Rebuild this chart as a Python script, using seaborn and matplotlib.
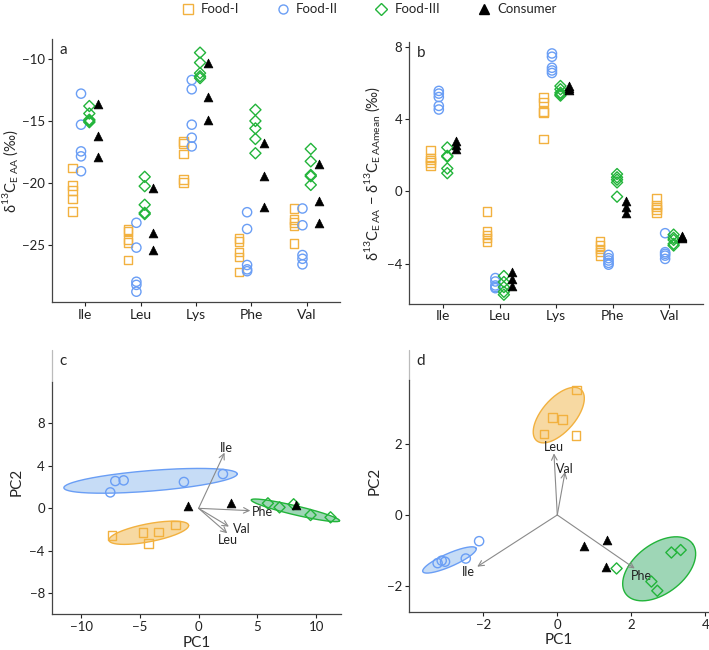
import numpy as np
import pandas as pd
import seaborn as sns
from matplotlib import pyplot as plt
from matplotlib.lines import Line2D

sns.set_style('ticks')
plt.rcParams['font.family'] = ['Lato', 'DejaVu Sans']
plt.rcParams['mathtext.fontset'] = 'custom'
plt.rcParams['mathtext.rm'] = 'Lato'

# ---- data -------------------------------------------------------------
amino = ['Ile', 'Leu', 'Lys', 'Phe', 'Val']
groups = ['Food-I', 'Food-II', 'Food-III', 'Consumer']

# panel a: d13C of essential amino acids
a_food1 = [[-18.8, -20.2, -20.6, -21.3, -22.3], [-23.75, -23.9, -24.55, -24.8, -26.2],
           [-16.65, -16.8, -17.65, -19.7, -19.95], [-24.45, -24.7, -25.55, -25.95, -27.15],
           [-22.05, -22.95, -23.2, -23.45, -24.85]]
a_food2 = [[-12.8, -15.3, -17.45, -17.85, -19.05], [-23.2, -25.2, -27.95, -28.2, -28.75],
           [-11.7, -12.45, -15.3, -16.35, -17.05], [-22.35, -23.7, -26.6, -26.95, -27.1],
           [-22.05, -23.4, -25.8, -26.1, -26.55]]
a_food3 = [[-13.8, -14.4, -14.9, -15.0, -15.1], [-19.5, -20.25, -21.75, -22.4, -22.5],
           [-9.5, -10.3, -11.15, -11.4, -11.55], [-14.1, -15.0, -15.6, -16.45, -17.6],
           [-17.25, -18.25, -19.35, -19.45, -20.15]]
a_cons = [[-13.65, -16.25, -17.9], [-20.4, -24.05, -25.4], [-10.3, -13.1, -14.9],
          [-16.75, -19.4, -21.95], [-18.5, -21.45, -23.2]]

# panel b: normalised d13C (EAA - EAA mean)
b_food1 = [[2.3, 1.85, 1.75, 1.6, 1.42], [-1.12, -2.22, -2.4, -2.58, -2.8],
           [5.2, 4.95, 4.42, 4.36, 2.89], [-2.77, -2.99, -3.18, -3.36, -3.54],
           [-0.38, -0.75, -0.85, -1.0, -1.15]]
b_food2 = [[5.56, 5.41, 5.22, 4.73, 4.53], [-4.79, -4.98, -5.2, -5.29, -5.35],
           [7.63, 7.45, 6.84, 6.69, 6.55], [-3.51, -3.69, -3.82, -3.95, -4.05],
           [-2.31, -3.36, -3.45, -3.55, -3.73]]
b_food3 = [[2.43, 1.97, 1.92, 1.27, 1.01], [-4.68, -5.01, -5.29, -5.55, -5.71],
           [5.83, 5.65, 5.46, 5.37, 5.3], [0.96, 0.78, 0.65, 0.5, -0.29],
           [-2.39, -2.57, -2.68, -2.9, -2.99]]
b_cons = [[2.8, 2.56, 2.34], [-4.46, -4.83, -5.24], [5.83, 5.7, 5.6],
          [-0.55, -0.84, -1.19], [-2.45, -2.5, -2.55]]

# panel c: PCA scores / loadings
c_pc1 = {'Food-I': [-7.38, -4.74, -3.40, -1.96, -4.26],
         'Food-II': [-7.52, -7.09, -6.38, -1.25, 2.07],
         'Food-III': [5.9, 6.89, 8.09, 9.53, 11.23],
         'Consumer': [-0.91, 2.78, 8.31]}
c_pc2 = {'Food-I': [-2.57, -2.26, -2.23, -1.57, -3.29],
         'Food-II': [1.50, 2.57, 2.63, 2.48, 3.23],
         'Food-III': [0.47, 0.09, 0.38, -0.63, -0.85],
         'Consumer': [0.22, 0.47, 0.28]}
c_load_names = ['Ile', 'Phe', 'Val', 'Leu']
c_load_x = [2.21, 4.4, 2.58, 2.44]
c_load_y = [5.24, -0.22, -1.72, -2.35]
# ellipse: centre, semi-diameter A, semi-diameter B (data units)
c_ell = {'Food-I': [(-4.24, -2.3), (3.39, 0.68), (0.0, 0.86)],
         'Food-II': [(-4.09, 2.59), (7.38, 0.65), (0.0, 0.97)],
         'Food-III': [(8.24, -0.19), (3.76, -0.97), (0.0, 0.44)]}

# panel d: PCA scores / loadings
d_pc1 = {'Food-I': [0.52, -0.13, 0.14, -0.36, 0.50],
         'Food-II': [-2.11, -2.47, -3.03, -3.12, -3.23],
         'Food-III': [1.6, 2.54, 2.7, 3.08, 3.33],
         'Consumer': [0.72, 1.33, 1.31]}
d_pc2 = {'Food-I': [3.53, 2.76, 2.70, 2.29, 2.24],
         'Food-II': [-0.74, -1.23, -1.32, -1.29, -1.36],
         'Food-III': [-1.51, -1.88, -2.14, -1.06, -0.99],
         'Consumer': [-0.89, -0.71, -1.46]}
d_load_names = ['Leu', 'Val', 'Ile', 'Phe']
d_load_x = [-0.09, 0.21, -2.16, 2.09]
d_load_y = [1.74, 1.22, -1.46, -1.51]
d_ell = {'Food-I': [(0.04, 2.82), (0.6, 0.72), (0.34, -0.31)],
         'Food-II': [(-2.91, -1.27), (0.72, 0.33), (0.07, -0.17)],
         'Food-III': [(2.75, -1.52), (0.9, 0.71), (0.40, -0.56)]}

# ---- style ------------------------------------------------------------
colors = {'Food-I': '#F2B13F', 'Food-II': '#6A9EF5', 'Food-III': '#22B43A', 'Consumer': 'black'}
fills = {'Food-I': '#F7D9A2', 'Food-II': '#C6DCF6', 'Food-III': '#9ED6B6'}
markers = {'Food-I': 's', 'Food-II': 'o', 'Food-III': 'D', 'Consumer': '^'}
sizes = {'Food-I': 38, 'Food-II': 44, 'Food-III': 32, 'Consumer': 40}
offsets = {'Food-I': -0.225, 'Food-II': -0.075, 'Food-III': 0.075, 'Consumer': 0.225}


def long_frame(series):
    rows = []
    for g, vals in zip(groups, series):
        for i, aa in enumerate(amino):
            for v in vals[i]:
                rows.append({'group': g, 'x': i + offsets[g], 'y': v})
    return pd.DataFrame(rows)


def draw_points(ax, df):
    for g in groups:
        sub = df[df['group'] == g]
        if g == 'Consumer':
            sns.scatterplot(data=sub, x='x', y='y', marker=markers[g], s=sizes[g],
                            color='black', edgecolor='black', linewidth=0.5, ax=ax, zorder=3)
        else:
            sns.scatterplot(data=sub, x='x', y='y', marker=markers[g], s=sizes[g],
                            facecolor='none', edgecolor=colors[g], linewidth=1.0, ax=ax, zorder=3)


def style_axes(ax, letter):
    sns.despine(ax=ax)
    for sp in ['left', 'bottom']:
        ax.spines[sp].set_color('#444444')
        ax.spines[sp].set_linewidth(0.9)
    ax.tick_params(labelsize=9.5, colors='#222222', length=3, width=0.8, pad=2)
    ax.set_xlabel('')
    ax.set_ylabel('')
    ax.text(0.025, 0.985, letter, transform=ax.transAxes, fontsize=11, va='top', ha='left')


def draw_ellipse(ax, g, params):
    (cx, cy), (ax_, ay_), (bx_, by_) = params
    t = np.linspace(0, 2 * np.pi, 200)
    ex = cx + np.cos(t) * ax_ + np.sin(t) * bx_
    ey = cy + np.cos(t) * ay_ + np.sin(t) * by_
    ax.fill(ex, ey, facecolor=fills[g], edgecolor='none', zorder=1)
    ax.plot(ex, ey, color=colors[g], lw=1.0, zorder=1.5)


def draw_pca(ax, pc1, pc2, ells, lnames, lx, ly, label_pos):
    for g in ['Food-I', 'Food-II', 'Food-III']:
        draw_ellipse(ax, g, ells[g])
    for name, x, y in zip(lnames, lx, ly):
        ax.annotate('', xy=(x, y), xytext=(0, 0),
                    arrowprops=dict(arrowstyle='->', color='#8a8a8a', lw=0.8,
                                    shrinkA=0, shrinkB=0))
        tx, ty, ha = label_pos[name]
        ax.text(tx, ty, name, fontsize=9, ha=ha, va='center', color='#222222')
    rows = []
    for g in groups:
        for x, y in zip(pc1[g], pc2[g]):
            rows.append({'group': g, 'x': x, 'y': y})
    draw_points(ax, pd.DataFrame(rows))


fig = plt.figure(figsize=(7.09, 6.5), dpi=100)
ax_a = fig.add_axes([0.0733, 0.535, 0.406, 0.405])
ax_b = fig.add_axes([0.577, 0.533, 0.415, 0.402])
ax_c = fig.add_axes([0.073, 0.0554, 0.4076, 0.406])
ax_d = fig.add_axes([0.577, 0.059, 0.4217, 0.4026])

# a
draw_points(ax_a, long_frame([a_food1, a_food2, a_food3, a_cons]))
style_axes(ax_a, 'a')
ax_a.set_xlim(-0.6, 4.6)
ax_a.set_ylim(-29.6, -8.4)
ax_a.set_xticks(range(len(amino)))
ax_a.set_xticklabels(amino, fontsize=10)
ax_a.set_yticks([-25, -20, -15, -10])
ax_a.set_yticklabels(['\u221225', '\u221220', '\u221215', '\u221210'])
ax_a.set_ylabel(r'δ$^{13}$C$_{\mathregular{E\ AA}}$ (‰)', fontsize=10.5, labelpad=1)

# b
draw_points(ax_b, long_frame([b_food1, b_food2, b_food3, b_cons]))
style_axes(ax_b, 'b')
ax_b.set_xlim(-0.6, 4.6)
ax_b.set_ylim(-6.2, 8.25)
ax_b.set_xticks(range(len(amino)))
ax_b.set_xticklabels(amino, fontsize=10)
ax_b.set_yticks([-4, 0, 4, 8])
ax_b.set_yticklabels(['\u22124', '0', '4', '8'])
ax_b.set_ylabel(r'δ$^{13}$C$_{\mathregular{E\,AA}}$ $-$ δ$^{13}$C$_{\mathregular{E\,AAmean}}$ (‰)',
                fontsize=10.5, labelpad=3)

# c
draw_pca(ax_c, c_pc1, c_pc2, c_ell, c_load_names, c_load_x, c_load_y,
         {'Ile': (2.4, 5.65, 'center'), 'Phe': (4.55, -0.35, 'left'),
          'Val': (2.95, -1.95, 'left'), 'Leu': (2.5, -2.95, 'center')})
style_axes(ax_c, 'c')
ax_c.set_xlim(-12.5, 12.1)
ax_c.set_ylim(-9.95, 14.9)
ax_c.set_xticks([-10, -5, 0, 5, 10])
ax_c.set_xticklabels(['\u221210', '\u22125', '0', '5', '10'])
ax_c.set_yticks([-8, -4, 0, 4, 8])
ax_c.set_yticklabels(['\u22128', '\u22124', '0', '4', '8'])
ax_c.spines['left'].set_bounds(-9.95, 11.9)
ax_c.plot([0, 0], [0.88, 1.0], transform=ax_c.transAxes, color='#bbbbbb', lw=0.9, clip_on=False)
ax_c.set_xlabel('PC1', fontsize=11, labelpad=2)
ax_c.set_ylabel('PC2', fontsize=11, labelpad=4)

# d
draw_pca(ax_d, d_pc1, d_pc2, d_ell, d_load_names, d_load_x, d_load_y,
         {'Leu': (-0.09, 1.93, 'center'), 'Val': (0.2, 1.3, 'center'),
          'Ile': (-2.4, -1.62, 'center'), 'Phe': (2.27, -1.72, 'center')})
style_axes(ax_d, 'd')
ax_d.set_xlim(-4.0, 4.07)
ax_d.set_ylim(-2.73, 4.66)
ax_d.set_xticks([-2, 0, 2, 4])
ax_d.set_xticklabels(['\u22122', '0', '2', '4'])
ax_d.set_yticks([-2, 0, 2])
ax_d.set_yticklabels(['\u22122', '0', '2'])
ax_d.spines['left'].set_bounds(-2.73, 3.81)
ax_d.plot([0, 0], [0.885, 1.0], transform=ax_d.transAxes, color='#bbbbbb', lw=0.9, clip_on=False)
ax_d.set_xlabel('PC1', fontsize=11, labelpad=2)
ax_d.set_ylabel('PC2', fontsize=11, labelpad=4)

# legend
handles = []
for g in groups:
    if g == 'Consumer':
        handles.append(Line2D([], [], marker='^', ls='none', color='black', markersize=6.5))
    else:
        handles.append(Line2D([], [], marker=markers[g], ls='none', markerfacecolor='none',
                              markeredgecolor=colors[g], markersize=6.5 if g != 'Food-III' else 6,
                              markeredgewidth=1.0))
fig.legend(handles, groups, loc='upper center', bbox_to_anchor=(0.52, 1.013), ncol=4,
           frameon=False, fontsize=9.5, columnspacing=2.8, handlelength=1.0, handletextpad=0.5)

fig.savefig('out.png', dpi=100)
